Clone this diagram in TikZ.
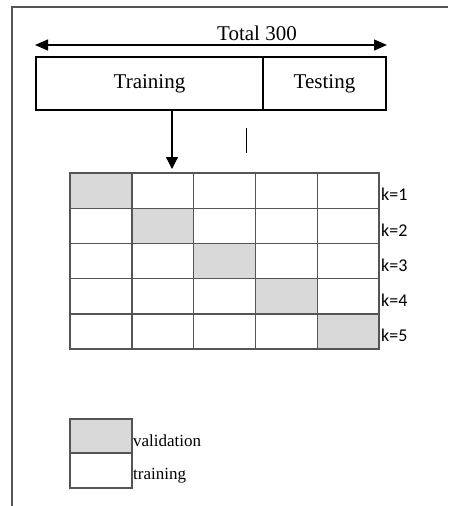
\documentclass[tikz,border=0pt]{standalone}
\usepackage{fontspec}
\setmainfont{Liberation Serif}
\newfontfamily\kfont{Carlito}
\usetikzlibrary{arrows.meta,positioning,calc}
\definecolor{valgray}{HTML}{D9D9D9}
\definecolor{gridgray}{HTML}{555555}

\begin{document}
\begin{tikzpicture}[
        x=1pt, y=-1pt,
        part/.style={draw, line width=1.2pt, outer sep=0pt, inner sep=0pt, minimum height=53pt, font=\fontsize{21}{24}\selectfont},
        cell/.style={draw=gridgray, line width=1.4pt, outer sep=0pt, minimum width=61.8pt, minimum height=35.2pt},
        klabel/.style={anchor=west, inner sep=0pt, font=\kfont\fontsize{18}{20}\selectfont},
        leglabel/.style={anchor=west, inner sep=0pt, font=\fontsize{17}{19}\selectfont}
    ]
    \useasboundingbox (0,0) rectangle (448,506);
    % frame
    \draw[gridgray, line width=1.5pt] (12,506) -- (12,7) -- (448,7);

    % data split
    \node[part, minimum width=227pt] (train) at (149.5,83.5) {Training};
    \node[part, minimum width=123pt, right=0pt of train] (test) {Testing};
    \coordinate (totl) at (35,45);
    \coordinate (totr) at (387,45);
    \draw[{Triangle[length=13pt,width=11pt]}-{Triangle[length=13pt,width=11pt]}, line width=1.2pt] (totl) -- (totr);
    \node[inner sep=0pt, font=\fontsize{21}{24}\selectfont] (total) at (257,33) {Total 300};
    \draw (246,128) -- (246,153);

    % folds
    \foreach \r in {1,...,5} {
        \foreach \c in {1,...,5} {
            \ifnum\r=\c \def\cellfill{valgray}\else\def\cellfill{white}\fi
            \node[cell, fill=\cellfill] (c\r\c) at ({70+61.8*(\c-0.5)},{173+35.2*(\r-0.5)}) {};
        }
        \node[klabel] (k\r) at ($(c\r5.east)+(2,4)$) {k=\r};
    }
    \coordinate (split) at ($(train.south)+(22.5,0)$);
    \draw[-{Triangle[length=12pt,width=12pt]}, line width=1.2pt, shorten >=4pt] (split) -- (split |- c11.north);

    % legend
    \node[cell, fill=valgray, minimum width=62pt, minimum height=34pt] (legv) at (101,436) {};
    \node[cell, minimum width=62pt, minimum height=35pt, below=0pt of legv] (legt) {};
    \node[leglabel] (legvt) at (133,441) {validation};
    \node[leglabel] (legtt) at (133,476) {training};
\end{tikzpicture}
\end{document}
